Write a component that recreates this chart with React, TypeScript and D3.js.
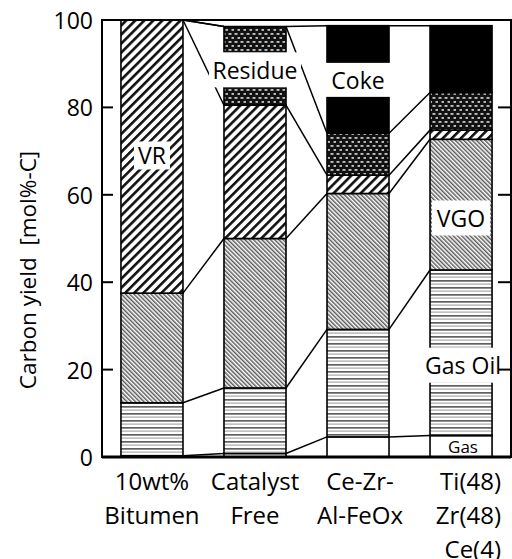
import React from 'react';
import * as d3 from 'd3';

const categories = ['10wt% Bitumen', 'Catalyst Free', 'Ce-Zr-Al-FeOx', 'Ti(48) Zr(48) Ce(4)'];
const categoryLines = [['10wt%', 'Bitumen'], ['Catalyst', 'Free'], ['Ce-Zr-', 'Al-FeOx'], ['Ti(48)', 'Zr(48)', 'Ce(4)']];
const seriesNames = ['Gas', 'Gas Oil', 'VGO', 'VR', 'Residue', 'Coke'];
const gas = [0.3, 0.8, 4.6, 4.9];
const gasOil = [12.1, 15.0, 24.6, 37.9];
const vgo = [25.1, 34.2, 31.1, 29.9];
const vr = [62.5, 30.5, 4.2, 2.1];
const residue = [0, 18.0, 9.6, 8.6];
const coke = [0, 0, 24.6, 15.3];
const yTicks = [0, 20, 40, 60, 80, 100];

// annotation labels: text, category index, value (data units) where label is centred
const labelTexts = ['VR', 'Residue', 'Coke', 'VGO', 'Gas Oil', 'Gas'];
const labelCats = [0, 1, 2, 3, 3, 3];
const labelValues = [69, 88.6, 86.3, 54.7, 21, 2.3];

const FONT = "'Open Sans', 'Noto Sans', sans-serif";

export default function App() {
  const W = 512, H = 559;
  const left = 102, right = 511, top = 20, bottom = 457;

  const table = categories.map((c, i) => ({
    cat: c,
    Gas: gas[i], 'Gas Oil': gasOil[i], VGO: vgo[i], VR: vr[i], Residue: residue[i], Coke: coke[i],
  }));
  const stacked = d3.stack<any>().keys(seriesNames)(table);

  const x = d3.scaleBand<string>().domain(categories).range([left, right]).paddingInner(0.398).paddingOuter(0.184);
  const y = d3.scaleLinear().domain([0, 100]).range([bottom, top]);
  const bw = x.bandwidth();

  const fills: Record<string, string> = {
    Gas: '#ffffff',
    'Gas Oil': 'url(#pGasOil)',
    VGO: 'url(#pVGO)',
    VR: 'url(#pVR)',
    Residue: 'url(#pRes)',
    Coke: '#000000',
  };

  // label boxes layout (px)
  const boxes = [
    { w: 36, h: 28, fs: 23, dx: 0 },
    { w: 92, h: 35, fs: 23, dx: 0 },
    { w: bw + 4, h: 34, fs: 23, dx: 0 },
    { w: 58, h: 35, fs: 23, dx: 0 },
    { w: 86, h: 35, fs: 23, dx: 2 },
    { w: 0, h: 0, fs: 17, dx: 2 },
  ];

  return (
    <svg width={W} height={H} style={{ position: 'absolute', left: 0, top: 0, background: '#fff' }} fontFamily={FONT}>
      <defs>
        <pattern id="pGasOil" patternUnits="userSpaceOnUse" width={8} height={7}>
          <rect width={8} height={7} fill="#fff" />
          <rect y={0} width={8} height={1.7} fill="#606060" />
          <rect y={3.5} width={8} height={1.2} fill="#a8a8a8" />
        </pattern>
        <pattern id="pVGO" patternUnits="userSpaceOnUse" width={3} height={10} patternTransform="rotate(-45)">
          <rect width={3} height={10} fill="#fff" />
          <rect width={1.45} height={10} fill="#585858" />
        </pattern>
        <pattern id="pVR" patternUnits="userSpaceOnUse" width={6.4} height={10} patternTransform="rotate(45)">
          <rect width={6.4} height={10} fill="#fff" />
          <rect width={2.6} height={10} fill="#111" />
        </pattern>
        <pattern id="pRes" patternUnits="userSpaceOnUse" width={6} height={8}>
          <rect width={6} height={8} fill="#111" />
          <rect x={0.5} y={1.2} width={3} height={1.5} fill="#e8e8e8" />
          <rect x={3.5} y={5.2} width={3} height={1.5} fill="#e8e8e8" />
        </pattern>
      </defs>

      {/* connector lines */}
      {stacked.map((s) =>
        categories.slice(0, -1).map((c, i) => (
          <line key={s.key + i}
            x1={(x(c) as number) + bw} y1={y(s[i][1])}
            x2={x(categories[i + 1]) as number} y2={y(s[i + 1][1])}
            stroke="#000" strokeWidth={1.5} />
        ))
      )}

      {/* bars */}
      {stacked.map((s) =>
        s.map((d, i) => {
          const h = y(d[0]) - y(d[1]);
          if (h <= 0.01) return null;
          return (
            <rect key={s.key + i} x={x(categories[i])} y={y(d[1])} width={bw} height={h}
              fill={fills[s.key]} stroke="#000" strokeWidth={1.6} />
          );
        })
      )}

      {/* label boxes */}
      {labelTexts.map((t, k) => {
        const b = boxes[k];
        const cx = (x(categories[labelCats[k]]) as number) + bw / 2 + b.dx;
        const cy = y(labelValues[k]);
        return (
          <g key={t}>
            {b.w > 0 && <rect x={cx - b.w / 2} y={cy - b.h / 2} width={b.w} height={b.h} fill="#fff" />}
            <text x={cx} y={cy} textAnchor="middle" dominantBaseline="central" fontSize={b.fs} fill="#000">{t}</text>
          </g>
        );
      })}

      {/* frame */}
      <rect x={left} y={top} width={right - left} height={bottom - top} fill="none" stroke="#000" strokeWidth={2} />
      <line x1={left} x2={right} y1={bottom} y2={bottom} stroke="#000" strokeWidth={3} />

      {/* ticks */}
      {yTicks.map((t) => (
        <g key={t}>
          <line x1={left} x2={left + 11} y1={y(t)} y2={y(t)} stroke="#000" strokeWidth={2} />
          <line x1={right - 13} x2={right} y1={y(t)} y2={y(t)} stroke="#000" strokeWidth={2} />
          <text x={left - 9} y={y(t)} textAnchor="end" dominantBaseline="central" fontSize={23} fill="#000">{t}</text>
        </g>
      ))}

      {/* y title */}
      <text transform={`translate(27, 270) rotate(-90)`} textAnchor="middle" dominantBaseline="central" fontSize={22.5} fill="#000" xmlSpace="preserve">{'Carbon yield  [mol%-C]'}</text>

      {/* x labels */}
      {categoryLines.map((lines, i) => (
        <g key={i}>
          {lines.map((ln, j) => (
            <text key={j}
              x={i === 3 ? 501 : (x(categories[i]) as number) + bw / 2 + (i === 2 ? 2 : 0)}
              y={490 + j * 34}
              textAnchor={i === 3 ? 'end' : 'middle'} fontSize={24} fill="#000">{ln}</text>
          ))}
        </g>
      ))}
    </svg>
  );
}
